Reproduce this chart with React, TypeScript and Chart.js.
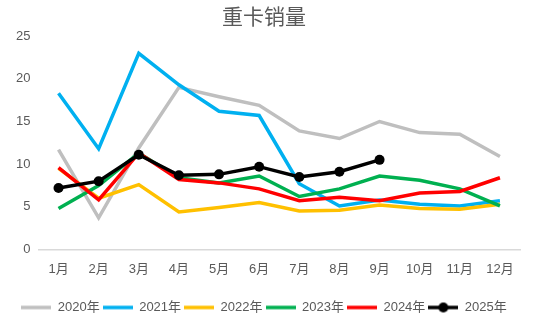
import React, { useEffect, useRef } from "react";
import { Chart, registerables } from "chart.js";

Chart.register(...registerables);

const months = ["1月", "2月", "3月", "4月", "5月", "6月", "7月", "8月", "9月", "10月", "11月", "12月"];
const seriesNames = ["2020年", "2021年", "2022年", "2023年", "2024年", "2025年"];
const v2020 = [11.7, 3.7, 11.9, 19.0, 17.9, 16.9, 13.9, 13.0, 15.0, 13.7, 13.5, 10.9];
const v2021 = [18.3, 11.8, 23.0, 19.3, 16.2, 15.7, 7.7, 5.1, 5.8, 5.3, 5.1, 5.7];
const v2022 = [9.5, 6.0, 7.6, 4.4, 4.9, 5.5, 4.5, 4.6, 5.2, 4.8, 4.7, 5.3];
const v2023 = [4.8, 7.5, 11.3, 8.4, 7.8, 8.6, 6.2, 7.1, 8.6, 8.1, 7.1, 5.1];
const v2024 = [9.6, 5.8, 11.3, 8.2, 7.8, 7.1, 5.7, 6.1, 5.7, 6.6, 6.8, 8.4];
const v2025 = [7.2, 8.0, 11.1, 8.7, 8.8, 9.7, 8.5, 9.1, 10.5];
const colors = ["#BFBFBF", "#00B0F0", "#FFC000", "#00B050", "#FF0000", "#000000"];

const FONT = "'Liberation Sans', 'Noto Sans CJK SC', sans-serif";

function legendIcon(color: string, dot: boolean) {
  const c = document.createElement("canvas");
  c.width = 30;
  c.height = 12;
  const ctx = c.getContext("2d")!;
  ctx.strokeStyle = color;
  ctx.lineWidth = 3.5;
  ctx.beginPath();
  ctx.moveTo(0, 6);
  ctx.lineTo(30, 6);
  ctx.stroke();
  if (dot) {
    ctx.fillStyle = color;
    ctx.beginPath();
    ctx.arc(15, 6, 5, 0, Math.PI * 2);
    ctx.fill();
  }
  return c;
}

export default function App() {
  const ref = useRef<HTMLCanvasElement | null>(null);
  useEffect(() => {
    if (!ref.current) return;
    const all = [v2020, v2021, v2022, v2023, v2024, v2025];
    const icons = colors.map((c, i) => legendIcon(c, i === 5));
    const chart = new Chart(ref.current, {
      type: "line",
      data: {
        labels: months,
        datasets: all.map((d, i) => ({
          label: seriesNames[i],
          data: d,
          borderColor: colors[i],
          backgroundColor: colors[i],
          borderWidth: 3.5,
          pointStyle: "circle",
          pointRadius: i === 5 ? 5 : 0,
          pointHoverRadius: i === 5 ? 5 : 0,
          pointBackgroundColor: colors[i],
          pointBorderWidth: 0,
          tension: 0,
          order: 5 - i,
        })) as any,
      },
      options: {
        animation: false,
        responsive: false,
        maintainAspectRatio: false,
        layout: { padding: { left: 8, right: 30, top: 0, bottom: -1 } },
        plugins: {
          title: {
            display: true,
            text: "重卡销量",
            color: "#595959",
            font: { family: FONT, size: 21, weight: "normal" },
            padding: { top: 6, bottom: 5 },
          },
          legend: {
            position: "bottom",
            labels: {
              usePointStyle: true,
              pointStyleWidth: 30,
              boxHeight: 12,
              padding: 3,
              color: "#595959",
              font: { family: FONT, size: 13 },
              sort: (a: any, b: any) => a.datasetIndex - b.datasetIndex,
              generateLabels: (chart: any) =>
                chart.data.datasets.map((ds: any, i: number) => ({
                  text: ds.label,
                  datasetIndex: i,
                  pointStyle: icons[i],
                  fontColor: "#595959",
                  strokeStyle: colors[i],
                  fillStyle: colors[i],
                  lineWidth: 0,
                  hidden: false,
                })),
            },
          },
          tooltip: { enabled: false },
        },
        scales: {
          x: {
            offset: true,
            grid: { display: false },
            border: { display: true, color: "#D9D9D9", width: 1.5 },
            ticks: { color: "#595959", font: { family: FONT, size: 13 }, padding: 4 },
            afterFit: (scale: any) => {
              scale.height += 17;
            },
          },
          y: {
            min: 0,
            max: 25,
            grid: { display: false, drawTicks: false },
            border: { display: false },
            ticks: { stepSize: 5, color: "#595959", font: { family: FONT, size: 13 }, padding: 8 },
          },
        },
      },
    });
    return () => chart.destroy();
  }, []);
  return (
    <div style={{ position: "fixed", left: 0, top: 0, width: 550, height: 323, background: "#fff" }}>
      <canvas ref={ref} width={550} height={323} style={{ width: 550, height: 323 }} />
    </div>
  );
}
